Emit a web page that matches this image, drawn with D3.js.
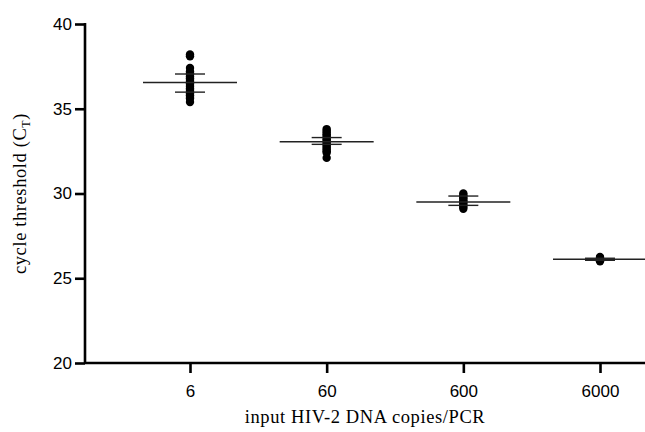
<!DOCTYPE html>
<html>
<head>
<meta charset="utf-8">
<script src="https://cdn.jsdelivr.net/npm/d3@7"></script>
<style>
  body { margin: 0; background: #fff; }
  svg { display: block; }
</style>
</head>
<body>
<div id="chart"></div>
<script>
// categories (input copies / PCR)
const categories = ["6", "60", "600", "6000"];

// individual CT values per category
const ct6 = [38.2, 38.1, 37.4, 37.2, 37.1, 37.0, 36.9, 36.8, 36.7, 36.6, 36.5, 36.4,
             36.3, 36.2, 36.1, 36.0, 35.9, 35.8, 35.7, 35.6, 35.4];
const ct60 = [33.8, 33.7, 33.6, 33.5, 33.4, 33.3, 33.2, 33.1, 33.0, 32.9, 32.8,
              32.7, 32.6, 32.5, 32.4, 32.1];
const ct600 = [30.0, 29.9, 29.8, 29.7, 29.6, 29.5, 29.4, 29.3, 29.2, 29.1];
const ct6000 = [26.25, 26.2, 26.15, 26.1, 26.05, 26.0];

// mean and error bar limits
const means = [36.55, 33.05, 29.5, 26.12];
const upper = [37.05, 33.3, 29.85, 26.18];
const lower = [35.98, 32.9, 29.3, 26.06];

const yTicks = [20, 25, 30, 35, 40];

const groups = [ct6, ct60, ct600, ct6000];

const width = 645, height = 432;

const svg = d3.select("#chart").append("svg")
    .attr("width", width)
    .attr("height", height);

const x = d3.scalePoint()
    .domain(categories)
    .range([190, 600]);

const y = d3.scaleLinear()
    .domain([20, 40])
    .range([363, 24]);

const axisLeft = 85, axisRight = 645;

// y axis
const gy = svg.append("g")
    .attr("transform", `translate(${axisLeft}, 0)`)
    .call(d3.axisLeft(y)
        .tickValues(yTicks)
        .tickSize(10)
        .tickSizeOuter(0)
        .tickPadding(3));

// x axis
const gx = svg.append("g")
    .attr("transform", `translate(0, ${y(20)})`)
    .call(d3.axisBottom(x)
        .tickSize(10)
        .tickSizeOuter(0)
        .tickPadding(12));

// x axis line runs the full width, from the y axis to the edge
gx.select(".domain").attr("d", `M${axisLeft},0H${axisRight}`);
gy.select(".domain").attr("d", `M0,${y(40) - 1}V${y(20)}`);

svg.selectAll(".domain, .tick line")
    .attr("stroke", "#000")
    .attr("stroke-width", 2.6);

svg.selectAll(".tick text")
    .attr("fill", "#000")
    .style("font-family", "'Liberation Sans', Arial, sans-serif")
    .style("font-size", "17px");

// points
groups.forEach((vals, i) => {
    svg.append("g")
        .selectAll("circle")
        .data(vals)
        .enter().append("circle")
        .attr("cx", x(categories[i]))
        .attr("cy", d => y(d))
        .attr("r", 4.2)
        .attr("fill", "#000");
});

// mean lines
svg.append("g")
    .selectAll("line")
    .data(means)
    .enter().append("line")
    .attr("x1", (d, i) => x(categories[i]) - 47)
    .attr("x2", (d, i) => x(categories[i]) + 47)
    .attr("y1", d => y(d))
    .attr("y2", d => y(d))
    .attr("stroke", "#222")
    .attr("stroke-width", 1.4);

// error bar caps
[upper, lower].forEach(arr => {
    svg.append("g")
        .selectAll("line")
        .data(arr)
        .enter().append("line")
        .attr("x1", (d, i) => x(categories[i]) - 15)
        .attr("x2", (d, i) => x(categories[i]) + 15)
        .attr("y1", d => y(d))
        .attr("y2", d => y(d))
        .attr("stroke", "#222")
        .attr("stroke-width", 1.4);
});

// axis titles
svg.append("text")
    .attr("x", 365)
    .attr("y", 423)
    .attr("text-anchor", "middle")
    .style("font-family", "'Liberation Serif', 'DejaVu Serif', serif")
    .style("font-size", "18.5px")
    .style("letter-spacing", "0.6px")
    .text("input HIV-2 DNA copies/PCR");

const yTitle = svg.append("text")
    .attr("transform", "rotate(-90)")
    .attr("x", -y(30))
    .attr("y", 26)
    .attr("text-anchor", "middle")
    .style("font-family", "'Liberation Serif', 'DejaVu Serif', serif")
    .style("font-size", "18.5px")
    .style("letter-spacing", "0.6px");
yTitle.append("tspan").text("cycle threshold (C");
yTitle.append("tspan").attr("dy", 4).style("font-size", "12px").text("T");
yTitle.append("tspan").attr("dy", -4).text(")");
</script>
</body>
</html>
